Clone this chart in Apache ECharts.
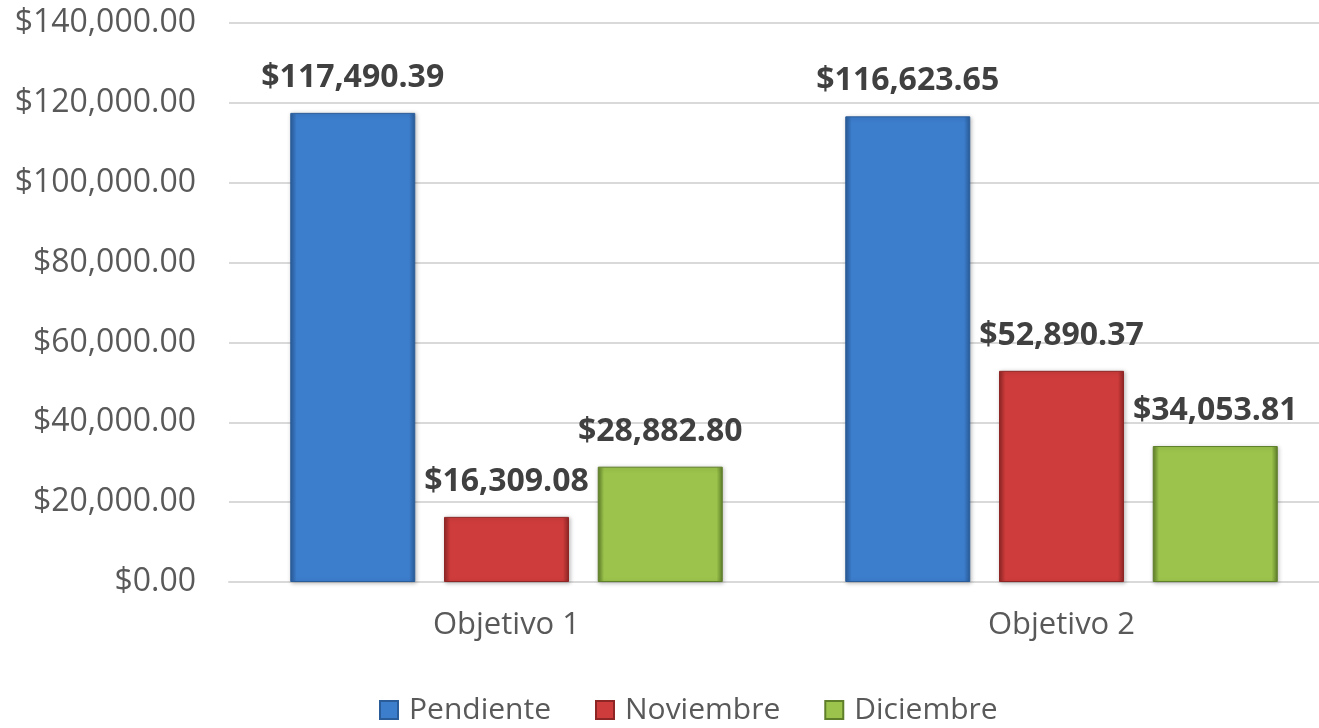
<!DOCTYPE html>
<html>
<head>
<meta charset="utf-8">
<script src="https://cdn.jsdelivr.net/npm/echarts@6/dist/echarts.min.js"></script>
<style>
  html, body { margin: 0; padding: 0; background: #fff; overflow: hidden; }
  /* plot area runs past the right edge in the original, so the div is a bit wider */
  #chart { width: 1339px; height: 728px; }
</style>
</head>
<body>
<div id="chart"></div>
<script>
const categories = ['Objetivo 1', 'Objetivo 2']
const pendiente = [117490.39, 116623.65]
const noviembre = [16309.08, 52890.37]
const diciembre = [28882.80, 34053.81]
const yTicks = { min: 0, max: 140000, interval: 20000 }

const money = (v) => {
    const parts = Number(v).toFixed(2).split('.')
    parts[0] = parts[0].replace(/\B(?=(\d{3})+(?!\d))/g, ',')
    return '$' + parts.join('.')
}

// fake excel bevel: dark edges, lighter top
const bevel = (light, mid, dark) => ({
    type: 'linear', x: 0, y: 0, x2: 1, y2: 0,
    colorStops: [
        { offset: 0, color: dark },
        { offset: 0.05, color: mid },
        { offset: 0.95, color: mid },
        { offset: 1, color: dark }
    ]
})

const font = '"Open Sans", "Noto Sans", sans-serif'

const mkSeries = (name, data, light, mid, dark) => ({
    name: name,
    type: 'bar',
    data: data,
    barWidth: 125,
    barGap: '23%',
    itemStyle: {
        color: bevel(light, mid, dark),
        borderColor: dark,
        borderWidth: 1,
        shadowColor: 'rgba(0,0,0,0.25)',
        shadowBlur: 4,
        shadowOffsetX: 1,
        shadowOffsetY: 1
    },
    label: {
        show: true,
        position: 'top',
        distance: 19,
        formatter: (p) => money(p.value),
        fontFamily: font,
        fontWeight: 'bold',
        fontSize: 32,
        color: '#404040'
    }
})

const chart = echarts.init(document.getElementById('chart'))
chart.setOption({
    backgroundColor: '#fff',
    animation: false,
    grid: { left: 229, right: 0, top: 23, bottom: 146 },
    legend: {
        data: ['Pendiente', 'Noviembre', 'Diciembre'],
        left: 374,
        top: 690,
        itemWidth: 18,
        itemHeight: 18,
        itemGap: 44,
        textStyle: { fontFamily: font, fontSize: 30, color: '#595959', padding: [0, 0, 0, 6] },
        icon: 'rect'
    },
    xAxis: {
        type: 'category',
        data: categories,
        axisLine: { lineStyle: { color: '#d9d9d9', width: 2 } },
        axisTick: { show: false },
        axisLabel: { fontFamily: font, fontSize: 31, color: '#595959', margin: 28 }
    },
    yAxis: {
        type: 'value',
        min: yTicks.min,
        max: yTicks.max,
        interval: yTicks.interval,
        axisLine: { show: false },
        axisTick: { show: false },
        splitLine: { lineStyle: { color: '#d9d9d9', width: 2 } },
        axisLabel: {
            fontFamily: font, fontSize: 32, color: '#595959', margin: 33,
            formatter: (v) => money(v)
        }
    },
    series: [
        mkSeries('Pendiente', pendiente, '#6aa3e6', '#3c7dcc', '#2a5c99'),
        mkSeries('Noviembre', noviembre, '#f07070', '#cf3c3c', '#8f2626'),
        mkSeries('Diciembre', diciembre, '#c8e27a', '#9cc44c', '#5f7f2a')
    ]
})
</script>
</body>
</html>
